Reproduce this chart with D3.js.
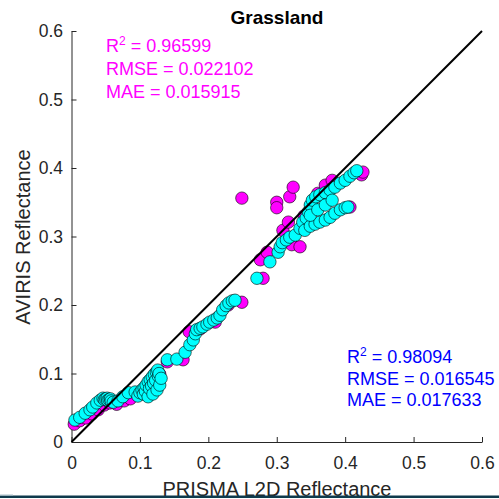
<!DOCTYPE html>
<html>
<head>
<meta charset="utf-8">
<script src="https://cdn.jsdelivr.net/npm/d3@7"></script>
<style>
body { margin: 0; background: #fff; }
text { font-family: "Liberation Sans", Arial, sans-serif; }
</style>
</head>
<body>
<div id="chart"></div>
<script>
// tick values (same on both axes)
const tickVals = [0, 0.1, 0.2, 0.3, 0.4, 0.5, 0.6]

// cyan series (PRISMA x, AVIRIS y)
const cyanX = [0.005,0.012,0.020,0.027,0.031,0.037,0.042,0.046,0.048,0.050,0.052,0.053,0.055,0.057,0.058,0.061,0.068,0.075,0.083,0.093,
  0.097,0.100,0.103,0.105,0.106,0.108,0.109,0.112,0.112,0.114,0.115,0.117,0.118,0.119,0.120,0.121,0.123,0.124,0.125,0.126,0.127,0.128,0.129,0.131,
  0.140,0.154,0.166,0.173,0.178,0.181,0.183,0.188,0.192,0.198,0.202,0.208,0.213,0.217,0.221,0.226,0.230,0.235,0.239,
  0.271,0.290,0.302,0.305,0.308,0.314,0.319,0.327,0.334,0.338,0.343,0.346,0.349,0.352,0.357,0.363,0.371,0.378,0.385,
  0.393,0.400,0.407,0.413,0.417,0.341,0.349,0.356,0.363,0.371,0.378,0.385,0.393,0.400,0.404,0.349,0.360,0.371,0.381]
const cyanY = [0.032,0.036,0.042,0.047,0.051,0.057,0.061,0.064,0.062,0.063,0.064,0.061,0.062,0.063,0.060,0.058,0.060,0.066,0.072,0.073,
  0.067,0.072,0.076,0.070,0.079,0.074,0.083,0.066,0.088,0.078,0.091,0.082,0.095,0.070,0.086,0.099,0.090,0.102,0.076,0.105,0.096,0.100,0.083,0.093,
  0.120,0.121,0.131,0.142,0.149,0.158,0.164,0.166,0.168,0.172,0.175,0.178,0.181,0.185,0.193,0.199,0.203,0.206,0.207,
  0.239,0.263,0.277,0.285,0.291,0.295,0.299,0.302,0.312,0.321,0.327,0.336,0.346,0.353,0.358,0.361,0.364,0.368,0.372,
  0.378,0.382,0.388,0.393,0.396,0.309,0.315,0.318,0.321,0.324,0.328,0.334,0.339,0.342,0.343,0.331,0.339,0.346,0.353]

// magenta series
const magX = [0.004,0.012,0.021,0.030,0.039,0.048,0.056,0.066,0.077,0.086,0.107,0.115,0.122,0.129,0.140,0.163,
  0.172,0.188,0.210,0.229,0.249,0.276,0.280,0.286,0.309,0.317,0.322,0.334,0.249,0.300,0.300,0.319,0.324,
  0.340,0.350,0.360,0.371,0.381,0.407,0.424,0.426]
const magY = [0.026,0.031,0.035,0.041,0.047,0.054,0.057,0.055,0.060,0.063,0.073,0.082,0.091,0.099,0.117,0.120,
  0.161,0.165,0.175,0.200,0.204,0.266,0.239,0.277,0.309,0.321,0.288,0.285,0.356,0.350,0.342,0.358,0.372,
  0.330,0.345,0.363,0.375,0.382,0.343,0.390,0.394]

const magStats = [["R", "2", " = 0.96599"], ["RMSE = 0.022102"], ["MAE = 0.015915"]]
const blueStats = [["R", "2", " = 0.98094"], ["RMSE = 0.016545"], ["MAE = 0.017633"]]

const W = 499, H = 499
const svg = d3.select("#chart").append("svg").attr("width", W).attr("height", H)

const x = d3.scaleLinear().domain([0, 0.6]).range([71.5, 482])
const y = d3.scaleLinear().domain([0, 0.6]).range([442, 31])
const fmt = d => d === 0 ? "0" : d.toFixed(1)

// axes
const gx = svg.append("g").attr("transform", "translate(0,442)")
  .call(d3.axisBottom(x).tickValues(tickVals).tickFormat(fmt).tickSizeInner(-5).tickSizeOuter(0).tickPadding(14.5))
const gy = svg.append("g").attr("transform", "translate(71.5,0)")
  .call(d3.axisLeft(y).tickValues(tickVals).tickFormat(fmt).tickSizeInner(-5).tickSizeOuter(0).tickPadding(8.5))
;[gx, gy].forEach(g => {
  g.select(".domain").attr("stroke", "#262626")
  g.selectAll(".tick line").attr("stroke", "#262626")
  g.selectAll(".tick text").attr("fill", "#262626")
    .style("font-family", "'Liberation Sans', Arial, sans-serif").style("font-size", "17.5px")
})

// points
const magData = magX.map((v, i) => [v, magY[i]])
const cyanData = cyanX.map((v, i) => [v, cyanY[i]])
svg.append("g").selectAll("circle").data(magData).join("circle")
  .attr("cx", d => x(d[0])).attr("cy", d => y(d[1])).attr("r", 6.2)
  .attr("fill", "#ff00ff").attr("stroke", "#000").attr("stroke-width", 0.6)
svg.append("g").selectAll("circle").data(cyanData).join("circle")
  .attr("cx", d => x(d[0])).attr("cy", d => y(d[1])).attr("r", 6.2)
  .attr("fill", "#00ffff").attr("stroke", "#000").attr("stroke-width", 0.6)

// 1:1 line
svg.append("line")
  .attr("x1", x(0)).attr("y1", y(0)).attr("x2", x(0.6)).attr("y2", y(0.6))
  .attr("stroke", "#000").attr("stroke-width", 2)

// title and labels
svg.append("text").attr("x", 277).attr("y", 24).attr("text-anchor", "middle")
  .attr("font-weight", "bold").attr("font-size", 19).text("Grassland")
svg.append("text").attr("x", 277).attr("y", 495.5).attr("text-anchor", "middle")
  .attr("font-size", 20).attr("fill", "#262626").text("PRISMA L2D Reflectance")
svg.append("text").attr("transform", "translate(30,237) rotate(-90)").attr("text-anchor", "middle")
  .attr("font-size", 20).attr("fill", "#262626").text("AVIRIS Reflectance")

function stats(lines, x0, y0, dy, color) {
  lines.forEach((l, i) => {
    const t = svg.append("text").attr("x", x0).attr("y", y0 + i * dy)
      .attr("font-size", 18).attr("fill", color)
    if (l.length === 3) {
      t.append("tspan").text(l[0])
      t.append("tspan").attr("dy", -7.5).attr("font-size", 12).text(l[1])
      t.append("tspan").attr("dy", 7.5).text(l[2])
    } else {
      t.text(l[0])
    }
  })
}
stats(magStats, 106, 52, 23, "#ff00ff")
stats(blueStats, 347, 363, 21.5, "#0000ff")

// strip at the bottom edge
svg.append("rect").attr("x", 0).attr("y", 495.5).attr("width", W).attr("height", 2.5).attr("fill", "#0f3a4c")
svg.append("rect").attr("x", 0).attr("y", 494.5).attr("width", 13).attr("height", 1).attr("fill", "#a9bfca")
</script>
</body>
</html>
